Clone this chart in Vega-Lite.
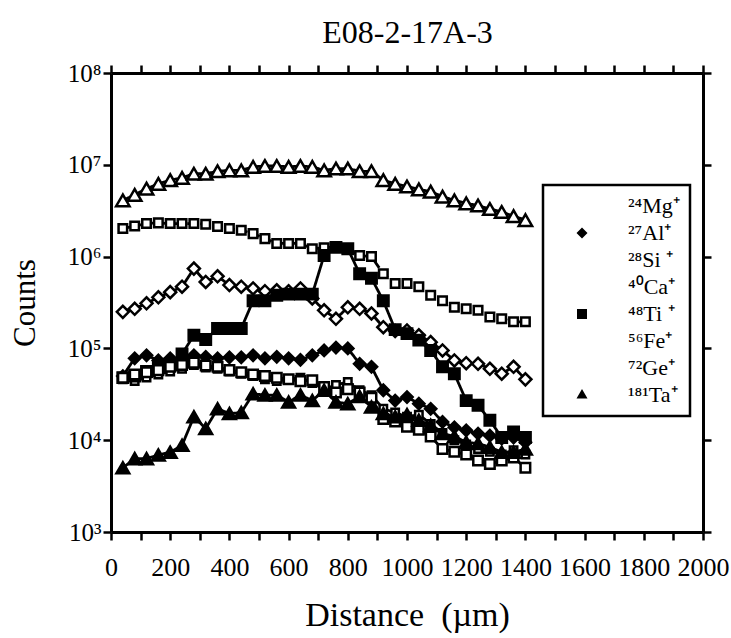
{
  "$schema": "https://vega.github.io/schema/vega-lite/v6.json",
  "width": 592,
  "height": 459,
  "autosize": {"type": "none"},
  "padding": {"left": 111, "top": 73, "right": 28, "bottom": 106},
  "background": "white",
  "config": {"view": {"stroke": null}, "font": "Liberation Serif", "legend": {"strokeWidth": 2.5}},
  "data": {"values": [
    {"x": 40, "Mg": 46000, "Al": 50000, "Si": 2020000, "Ca": 250000, "Ti": 48000, "Fe": 48000, "Ge": 4100000, "Ta": 5000},
    {"x": 80, "Mg": 44000, "Al": 78000, "Si": 2150000, "Ca": 270000, "Ti": 50000, "Fe": 52000, "Ge": 4700000, "Ta": 6300},
    {"x": 120, "Mg": 48000, "Al": 84000, "Si": 2290000, "Ca": 310000, "Ti": 56000, "Fe": 55000, "Ge": 5500000, "Ta": 6300},
    {"x": 160, "Mg": 52000, "Al": 74000, "Si": 2330000, "Ca": 360000, "Ti": 62000, "Fe": 58000, "Ge": 6200000, "Ta": 6900},
    {"x": 200, "Mg": 56000, "Al": 78000, "Si": 2290000, "Ca": 410000, "Ti": 68000, "Fe": 63000, "Ge": 6800000, "Ta": 7400},
    {"x": 240, "Mg": 60000, "Al": 74000, "Si": 2290000, "Ca": 470000, "Ti": 87000, "Fe": 66000, "Ge": 7200000, "Ta": 8800},
    {"x": 280, "Mg": 66000, "Al": 84000, "Si": 2290000, "Ca": 740000, "Ti": 139000, "Fe": 70000, "Ge": 8000000, "Ta": 18000},
    {"x": 320, "Mg": 62000, "Al": 81000, "Si": 2250000, "Ca": 530000, "Ti": 125000, "Fe": 65000, "Ge": 8000000, "Ta": 13400},
    {"x": 360, "Mg": 60000, "Al": 78000, "Si": 2130000, "Ca": 610000, "Ti": 165000, "Fe": 63000, "Ge": 8500000, "Ta": 22000},
    {"x": 400, "Mg": 56000, "Al": 80000, "Si": 2020000, "Ca": 490000, "Ti": 165000, "Fe": 58000, "Ge": 8700000, "Ta": 19500},
    {"x": 440, "Mg": 53000, "Al": 80000, "Si": 1940000, "Ca": 470000, "Ti": 165000, "Fe": 55000, "Ge": 8700000, "Ta": 20000},
    {"x": 480, "Mg": 50000, "Al": 84000, "Si": 1780000, "Ca": 450000, "Ti": 330000, "Fe": 52000, "Ge": 9500000, "Ta": 32000},
    {"x": 520, "Mg": 46000, "Al": 78000, "Si": 1570000, "Ca": 420000, "Ti": 330000, "Fe": 50000, "Ge": 9700000, "Ta": 31000},
    {"x": 560, "Mg": 44000, "Al": 81000, "Si": 1390000, "Ca": 430000, "Ti": 380000, "Fe": 48000, "Ge": 9700000, "Ta": 31000},
    {"x": 600, "Mg": 46000, "Al": 78000, "Si": 1390000, "Ca": 420000, "Ti": 390000, "Fe": 46000, "Ge": 9500000, "Ta": 26000},
    {"x": 640, "Mg": 48000, "Al": 75000, "Si": 1390000, "Ca": 450000, "Ti": 390000, "Fe": 44000, "Ge": 9700000, "Ta": 31000},
    {"x": 680, "Mg": 42000, "Al": 84000, "Si": 1220000, "Ca": 350000, "Ti": 390000, "Fe": 45000, "Ge": 9500000, "Ta": 27000},
    {"x": 720, "Mg": 36000, "Al": 95000, "Si": 1250000, "Ca": 260000, "Ti": 1030000, "Fe": 38000, "Ge": 8700000, "Ta": 35000},
    {"x": 760, "Mg": 40000, "Al": 102000, "Si": 1280000, "Ca": 210000, "Ti": 1260000, "Fe": 33000, "Ge": 9100000, "Ta": 26000},
    {"x": 800, "Mg": 43000, "Al": 100000, "Si": 1220000, "Ca": 280000, "Ti": 1220000, "Fe": 36000, "Ge": 9100000, "Ta": 25000},
    {"x": 840, "Mg": 35000, "Al": 68000, "Si": 1030000, "Ca": 270000, "Ti": 650000, "Fe": 33000, "Ge": 8500000, "Ta": 30000},
    {"x": 880, "Mg": 31000, "Al": 63000, "Si": 1000000, "Ca": 240000, "Ti": 580000, "Fe": 29000, "Ge": 8500000, "Ta": 23000},
    {"x": 920, "Mg": 22000, "Al": 35000, "Si": 650000, "Ca": 170000, "Ti": 330000, "Fe": 17000, "Ge": 6800000, "Ta": 19500},
    {"x": 960, "Mg": 20000, "Al": 27000, "Si": 510000, "Ca": 155000, "Ti": 160000, "Fe": 16000, "Ge": 6200000, "Ta": 18000},
    {"x": 1000, "Mg": 18000, "Al": 29500, "Si": 510000, "Ca": 157000, "Ti": 145000, "Fe": 14000, "Ge": 5800000, "Ta": 19000},
    {"x": 1040, "Mg": 19000, "Al": 25000, "Si": 470000, "Ca": 139000, "Ti": 123000, "Fe": 13000, "Ge": 5400000, "Ta": 16500},
    {"x": 1080, "Mg": 15000, "Al": 22000, "Si": 380000, "Ca": 117000, "Ti": 95000, "Fe": 11000, "Ge": 5100000, "Ta": 14500},
    {"x": 1120, "Mg": 12000, "Al": 15800, "Si": 330000, "Ca": 95000, "Ti": 63000, "Fe": 8000, "Ge": 4500000, "Ta": 11800},
    {"x": 1160, "Mg": 10000, "Al": 13800, "Si": 280000, "Ca": 74000, "Ti": 53000, "Fe": 7500, "Ge": 4100000, "Ta": 11000},
    {"x": 1200, "Mg": 9000, "Al": 12800, "Si": 270000, "Ca": 69000, "Ti": 27000, "Fe": 7000, "Ge": 3800000, "Ta": 9500},
    {"x": 1240, "Mg": 8000, "Al": 11800, "Si": 260000, "Ca": 68000, "Ti": 24000, "Fe": 6000, "Ge": 3600000, "Ta": 9200},
    {"x": 1280, "Mg": 7500, "Al": 11200, "Si": 220000, "Ca": 60000, "Ti": 16500, "Fe": 5500, "Ge": 3300000, "Ta": 8400},
    {"x": 1320, "Mg": 7000, "Al": 10400, "Si": 210000, "Ca": 53000, "Ti": 10700, "Fe": 6000, "Ge": 3060000, "Ta": 7400},
    {"x": 1360, "Mg": 7800, "Al": 10700, "Si": 195000, "Ca": 63000, "Ti": 12300, "Fe": 6500, "Ge": 2760000, "Ta": 7400},
    {"x": 1400, "Mg": 7000, "Al": 9500, "Si": 195000, "Ca": 46000, "Ti": 10700, "Fe": 5000, "Ge": 2500000, "Ta": 8000}
  ]},
  "transform": [{"fold": ["Mg", "Al", "Si", "Ca", "Ti", "Fe", "Ge", "Ta"], "as": ["s", "v"]}],
  "resolve": {"axis": {"x": "independent", "y": "independent"}, "scale": {"shape": "independent", "fill": "independent"}},
  "layer": [
    {
      "mark": {"type": "line", "color": "black", "strokeWidth": 2.8},
      "encoding": {
        "x": {"field": "x", "type": "quantitative", "scale": {"domain": [0, 2000], "nice": false},
          "axis": {"orient": "bottom", "values": [0,100,200,300,400,500,600,700,800,900,1000,1100,1200,1300,1400,1500,1600,1700,1800,1900,2000],
            "labelExpr": "datum.value % 200 == 0 ? datum.label : ''", "format": "d", "labelOverlap": false, "grid": false,
            "domainColor": "black", "domainWidth": 3, "tickColor": "black", "tickWidth": 2.5, "tickSize": 8,
            "labelFont": "Liberation Serif", "labelFontSize": 26, "labelColor": "black", "labelPadding": 14, "labelFlush": false,
            "title": "Distance\u00a0 (µm)", "titleFont": "Liberation Serif", "titleFontSize": 34, "titleFontWeight": "normal", "titleColor": "black", "titlePadding": 18}},
        "y": {"field": "v", "type": "quantitative", "scale": {"type": "log", "domain": [1000, 100000000], "nice": false},
          "axis": {"orient": "left", "values": [1000, 10000, 100000, 1000000, 10000000, 100000000],
            "labelExpr": "datum.value == 1000 ? '10³' : datum.value == 10000 ? '10⁴' : datum.value == 100000 ? '10⁵' : datum.value == 1000000 ? '10⁶' : datum.value == 10000000 ? '10⁷' : '10⁸'",
            "grid": false, "domainColor": "black", "domainWidth": 3, "tickColor": "black", "tickWidth": 2.5, "tickSize": 8,
            "labelFont": "Liberation Serif", "labelFontSize": 25, "labelColor": "black", "labelPadding": 2, "labelOverlap": false,
            "title": "Counts", "titleFont": "Liberation Serif", "titleFontSize": 31, "titleFontWeight": "normal", "titleColor": "black", "titlePadding": 26}},
        "strokeDash": {"field": "s", "type": "nominal",
          "scale": {"domain": ["Si", "Mg", "Al", "Ca", "Ti", "Fe", "Ge", "Ta"], "range": [[9,4],[1,0],[1,0],[1,0],[1,0],[1,0],[1,0],[1,0]]}, "legend": null}
      }
    },
    {
      "mark": {"type": "point", "filled": true, "stroke": "black", "strokeWidth": 2.5, "opacity": 1},
      "encoding": {
        "x": {"field": "x", "type": "quantitative", "axis": {"orient": "top", "labels": false, "title": "E08-2-17A-3", "titleFont": "Liberation Serif", "titleFontSize": 32, "titleFontWeight": "normal", "titleColor": "black", "titlePadding": 14, "values": [0,100,200,300,400,500,600,700,800,900,1000,1100,1200,1300,1400,1500,1600,1700,1800,1900,2000], "grid": false, "domainColor": "black", "domainWidth": 3, "tickColor": "black", "tickWidth": 2.5, "tickSize": 8}},
        "y": {"field": "v", "type": "quantitative", "axis": {"orient": "right", "labels": false, "title": null, "values": [1000, 10000, 100000, 1000000, 10000000, 100000000], "grid": false, "domainColor": "black", "domainWidth": 3, "tickColor": "black", "tickWidth": 2.5, "tickSize": 8}},
        "shape": {"field": "s", "type": "nominal",
          "scale": {"domain": ["Mg", "Al", "Si", "Ca", "Ti", "Fe", "Ge", "Ta"], "range": ["square", "diamond", "square", "diamond", "square", "square", "triangle-up", "triangle-up"]}, "legend": null},
        "fill": {"field": "s", "type": "nominal",
          "scale": {"domain": ["Mg", "Al", "Si", "Ca", "Ti", "Fe", "Ge", "Ta"], "range": ["white", "black", "white", "white", "black", "white", "white", "black"]}, "legend": null},
        "size": {"field": "s", "type": "nominal",
          "scale": {"domain": ["Mg", "Si", "Fe", "Ti", "Al", "Ca", "Ta", "Ge"], "range": [55, 180]}, "legend": null}
      }
    },
    {
      "transform": [{"filter": "datum.x == 40"}],
      "mark": {"type": "point", "filled": false, "color": "black", "strokeWidth": 2, "opacity": 0},
      "encoding": {
        "x": {"field": "x", "type": "quantitative", "axis": null},
        "y": {"field": "v", "type": "quantitative", "axis": null},
        "shape": {"field": "s", "type": "nominal", "sort": ["Mg", "Al", "Si", "Ca", "Ti", "Fe", "Ge", "Ta"],
          "scale": {"domain": ["Mg", "Al", "Si", "Ca", "Ti", "Fe", "Ge", "Ta"], "range": [
            "M-6,0L-0.7,0M0.7,0L6,0M-0.7,-0.7L0.7,-0.7L0.7,0.7L-0.7,0.7Z",
            "M-6,0L6,0M-1.1,0L0,-1.1L1.1,0L0,1.1Z",
            "M-6,0L-2,0M2,0L6,0M-0.6,-0.8L0.6,-0.8L0.6,0.8L-0.6,0.8Z",
            "M-6,0L-1.2,0M1.2,0L6,0M-1.2,0L0,-1.2L1.2,0L0,1.2Z",
            "M-6,0L6,0M-1,-1L1,-1L1,1L-1,1Z",
            "M-6,0L-1,0M1,0L6,0M-1,-1L1,-1L1,1L-1,1Z",
            "M-6,0.7L-1.1,0.7M1.1,0.7L6,0.7M-1.1,0.7L0,-1.2L1.1,0.7Z",
            "M-6,0.7L6,0.7M-1.1,0.7L0,-1.2L1.1,0.7Z"]},
          "legend": {"orient": "none", "legendX": 432, "legendY": 112, "title": null, "direction": "vertical",
            "labelFont": "Liberation Serif", "labelFontSize": 22, "labelColor": "black",
            "labelExpr": "datum.label == 'Mg' ? '²⁴Mg⁺' : datum.label == 'Al' ? '²⁷Al⁺' : datum.label == 'Si' ? '²⁸Si ⁺' : datum.label == 'Ca' ? '⁴⁰Ca⁺' : datum.label == 'Ti' ? '⁴⁸Ti ⁺' : datum.label == 'Fe' ? '⁵⁶Fe⁺' : datum.label == 'Ge' ? '⁷²Ge⁺' : '¹⁸¹Ta⁺'",
            "symbolSize": 100, "symbolOffset": 18, "labelOffset": 35, "rowPadding": 5, "padding": 10,
            "strokeColor": "black", "fillColor": "white", "symbolStrokeColor": "black", "symbolStrokeWidth": 2, "symbolOpacity": 1}},
        "fill": {"field": "s", "type": "nominal", "sort": ["Mg", "Al", "Si", "Ca", "Ti", "Fe", "Ge", "Ta"],
          "scale": {"domain": ["Mg", "Al", "Si", "Ca", "Ti", "Fe", "Ge", "Ta"], "range": ["white", "black", "white", "white", "black", "white", "white", "black"]},
          "legend": {"orient": "none", "legendX": 432, "legendY": 112, "title": null, "direction": "vertical",
            "labelFont": "Liberation Serif", "labelFontSize": 22, "labelColor": "black",
            "labelExpr": "datum.label == 'Mg' ? '²⁴Mg⁺' : datum.label == 'Al' ? '²⁷Al⁺' : datum.label == 'Si' ? '²⁸Si ⁺' : datum.label == 'Ca' ? '⁴⁰Ca⁺' : datum.label == 'Ti' ? '⁴⁸Ti ⁺' : datum.label == 'Fe' ? '⁵⁶Fe⁺' : datum.label == 'Ge' ? '⁷²Ge⁺' : '¹⁸¹Ta⁺'",
            "symbolSize": 100, "symbolOffset": 18, "labelOffset": 35, "rowPadding": 5, "padding": 10,
            "strokeColor": "black", "fillColor": "white", "symbolStrokeColor": "black", "symbolStrokeWidth": 2, "symbolOpacity": 1}}
      }
    }
  ]
}
